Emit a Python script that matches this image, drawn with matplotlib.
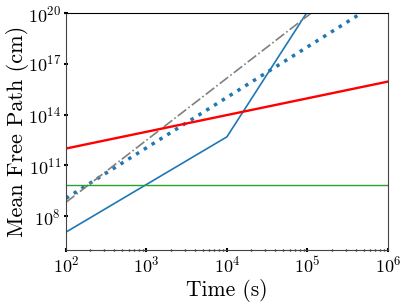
import matplotlib
matplotlib.use("Agg")
import matplotlib.pyplot as plt
import numpy as np

plt.rcParams['font.family'] = 'serif'
plt.rcParams['font.serif'] = ['cmr10', 'DejaVu Serif']
plt.rcParams['mathtext.fontset'] = 'cm'
plt.rcParams['axes.formatter.use_mathtext'] = True

# data (time in s, mean free path in cm)
t_red = [1e2, 1e6]
mfp_red = [1e12, 9e15]

t_green = [1e2, 1e6]
mfp_green = [7.5e9, 7.5e9]

t_gray = [1e2, 1e6]
mfp_gray = [6.6e8, 6.6e8 * 1e4 ** 3.67]

t_dot = [1e2, 1e6]
mfp_dot = [1.15e9, 1.15e9 * 1e4 ** 2.98]

t_blue = [1e2, 1e4, 1e5]
mfp_blue = [1.15e7, 4.9e12, 1.2e20]

fig, ax = plt.subplots(figsize=(4.07, 3.05), dpi=100)

ax.plot(t_blue, mfp_blue, color='#1f77b4', lw=1.2)
ax.plot(t_dot, mfp_dot, color='#1f77b4', lw=2.5, ls=':')
ax.plot(t_gray, mfp_gray, color='gray', lw=1.2, ls='-.')
ax.plot(t_red, mfp_red, color='red', lw=1.7)
ax.plot(t_green, mfp_green, color='#2ca02c', lw=1)

ax.set_xscale('log')
ax.set_yscale('log')
ax.set_xlim(1e2, 1e6)
ax.set_ylim(1e6, 1e20)
ax.set_yticks([1e8, 1e11, 1e14, 1e17, 1e20])
ax.minorticks_off()
ax.xaxis.set_minor_locator(matplotlib.ticker.LogLocator(base=10, subs=np.arange(2, 10)))

ax.tick_params(which='major', direction='inout', length=3, width=1.5, labelsize=13, color='black', pad=2)
ax.tick_params(which='minor', direction='inout', length=2, width=1, color='black')
for s in ax.spines.values():
    s.set_color('#444444')
ax.spines['top'].set_color('black')

ax.set_xlabel('Time (s)', fontsize=15.5, labelpad=2)
ax.set_ylabel('Mean Free Path (cm)', fontsize=16, labelpad=-1)

plt.subplots_adjust(left=0.162, right=0.953, top=0.957, bottom=0.18)
plt.savefig('out.png', dpi=100)
